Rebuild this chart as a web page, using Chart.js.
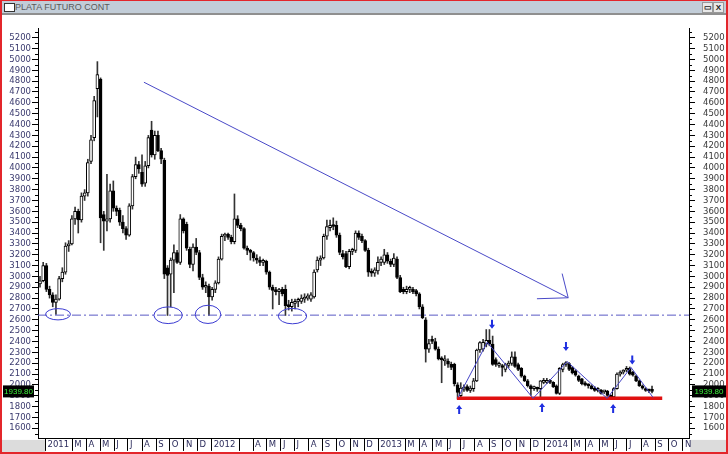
<!DOCTYPE html>
<html lang="es">
<head>
<meta charset="UTF-8">
<title>PLATA FUTURO CONT</title>
<script src="https://cdn.jsdelivr.net/npm/chart.js@4"></script>
<style>
  body { margin: 0; background: #fff; }
  .frame { position: relative; width: 728px; height: 454px; background: #e3262b; overflow: hidden; }
  .title { position: absolute; left: 2px; top: 1px; width: 724px; height: 12px; background: #c2cdd8; border-bottom: 2px solid #8f8f8f; }
  .title .icon { position: absolute; left: 2px; top: 2px; width: 9px; height: 7px; border: 1px solid #333; background: #fff; }
  .title span { position: absolute; left: 13px; top: 0; font: 9px "Liberation Sans", Arial, sans-serif; line-height: 12px; color: #5a5a5a; }
  .btn { position: absolute; top: 1px; width: 9px; height: 9px; background: #e8e8e8; border: 1px solid #999; font: bold 8px/9px "Liberation Sans", sans-serif; text-align: center; color: #222; }
  canvas { position: absolute; left: 2px; top: 15px; }
</style>
</head>
<body>
<div class="frame">
  <div class="title">
    <div class="icon"></div><span>PLATA FUTURO CONT</span>
    <div class="btn" style="left:700px">&#9645;</div>
    <div class="btn" style="left:711px">X</div>
  </div>
  <canvas id="chart" width="724" height="437"></canvas>
</div>
<script>
// weekly candles, first one is the week of 2010-12-20
const firstWeek = '2010-12-20';

const opens = [2930,2960,3100,2880,2830,2760,2790,2980,3040,3280,
  3300,3530,3600,3520,3740,3770,4060,4280,4730,4820,
  3570,3510,3530,3790,3630,3610,3500,3440,3380,3650,
  3920,4030,3960,3860,4020,4350,4120,4300,4160,4070,
  3080,3020,3150,3220,3130,3530,3480,3250,3110,3270,
  3220,2990,2900,2910,2810,2880,2940,3160,3370,3390,
  3360,3320,3530,3470,3440,3260,3240,3220,3170,3150,
  3130,3140,3040,2900,2870,2860,2880,2880,2740,2720,
  2750,2770,2770,2790,2800,2790,2810,3060,3150,3170,
  3370,3450,3470,3470,3380,3210,3210,3090,3230,3240,
  3400,3370,3330,3240,3040,3030,3050,3130,3130,3200,
  3140,3110,3160,2990,2880,2860,2880,2880,2870,2840,
  2720,2600,2330,2420,2400,2330,2240,2220,2220,2190,
  2190,2000,1900,1960,1985,1950,1966,2037,2322,2330,
  2375,2410,2375,2233,2180,2170,2143,2180,2197,2259,
  2188,2153,2081,2037,1992,1966,1970,1966,2023,2023,
  2037,2023,1992,1921,2143,2188,2197,2160,2130,2080,
  2055,2010,1995,1992,1970,1950,1950,1935,1943,1903,
  1890,1966,2099,2117,2135,2153,2117,2081,2037,1992,
  1966,1950,1945];

const highs = [3000,3130,3120,2910,2850,2830,3000,3080,3310,3330,
  3560,3640,3620,3770,3800,4080,4300,4660,4980,4830,
  3600,3940,3850,3880,3650,3630,3560,3460,3670,3940,
  4100,4060,4120,4060,4300,4430,4340,4340,4180,4090,
  3100,3170,3290,3240,3570,3540,3500,3270,3300,3350,
  3240,3020,2950,2930,2900,2960,3180,3390,3400,3400,
  3380,3760,3560,3490,3450,3280,3250,3230,3200,3180,
  3160,3150,3050,2920,2900,2890,2900,2920,2780,2790,
  2790,2800,2830,2840,2840,2850,3060,3180,3190,3390,
  3520,3520,3540,3510,3400,3240,3230,3250,3260,3420,
  3420,3390,3340,3260,3070,3080,3180,3180,3250,3220,
  3160,3210,3180,3010,2900,2910,2910,2900,2880,2850,
  2740,2620,2420,2450,2430,2350,2260,2270,2240,2210,
  2200,2020,2020,2000,2000,1990,2060,2330,2400,2420,
  2510,2510,2450,2250,2210,2190,2200,2220,2304,2304,
  2200,2160,2090,2050,2000,1990,1980,2040,2060,2060,
  2050,2030,2000,2160,2200,2215,2205,2170,2140,2090,
  2060,2030,2010,2000,1985,1975,1960,1950,1950,1910,
  1975,2110,2130,2140,2170,2165,2125,2090,2045,2000,
  1975,1960,1990];

const lows = [2900,2950,2860,2800,2720,2650,2780,2950,3020,3230,
  3290,3480,3400,3500,3700,3740,4040,4250,4470,3310,
  3240,3420,3500,3600,3560,3470,3400,3340,3370,3620,
  3900,3950,3830,3830,4000,4100,4080,4150,4040,2980,
  2640,2720,2850,3120,3110,3400,3240,3080,3050,3200,
  2970,2880,2850,2640,2780,2850,2930,3150,3330,3340,
  3300,3300,3450,3420,3250,3200,3150,3140,3120,3100,
  3100,3020,2880,2700,2830,2740,2820,2640,2690,2680,
  2700,2720,2750,2760,2780,2770,2800,3040,3100,3160,
  3340,3420,3430,3360,3200,3160,3080,3070,3200,3220,
  3340,3310,3230,3000,3000,3000,3020,3100,3110,3120,
  3090,3090,2980,2850,2840,2840,2850,2840,2820,2700,
  2610,2210,2300,2380,2320,2230,2020,2180,2160,2140,
  1990,1870,1880,1940,1940,1930,1940,2030,2300,2310,
  2350,2360,2180,2170,2160,2081,2120,2160,2180,2160,
  2130,2070,2030,1980,1903,1950,1940,1890,2010,2010,
  2010,1975,1915,1910,2120,2170,2130,2100,2080,2030,
  2000,1990,1970,1960,1940,1935,1915,1920,1895,1875,
  1880,1960,2080,2100,2120,2090,2080,2030,1985,1960,
  1940,1930,1925];

const closes = [2960,3100,2880,2830,2760,2790,2980,3040,3280,3300,
  3530,3600,3520,3740,3770,4050,4260,4620,4860,3540,
  3510,3530,3790,3630,3600,3500,3440,3380,3650,3920,
  4030,3990,3850,4020,4280,4120,4300,4160,4080,3020,
  3010,3150,3220,3130,3530,3420,3260,3110,3270,3220,
  2990,2900,2910,2810,2880,2940,3160,3370,3390,3360,
  3320,3530,3470,3440,3260,3240,3220,3170,3150,3130,
  3140,3040,2900,2870,2860,2870,2840,2730,2720,2760,
  2770,2780,2800,2810,2820,2830,3040,3150,3170,3370,
  3460,3470,3460,3380,3220,3180,3090,3230,3240,3400,
  3360,3330,3240,3040,3030,3060,3130,3160,3200,3140,
  3110,3170,2990,2860,2860,2880,2890,2860,2840,2720,
  2620,2330,2380,2400,2330,2240,2230,2240,2190,2160,
  2010,1930,1970,1980,1950,1970,2037,2320,2390,2393,
  2410,2375,2188,2188,2190,2160,2188,2200,2259,2170,
  2143,2081,2037,1992,1966,1975,1960,2037,2037,2037,
  2023,1983,1921,2153,2188,2197,2143,2110,2090,2040,
  2010,2000,1992,1966,1950,1966,1921,1943,1903,1885,
  1966,2099,2117,2135,2153,2099,2090,2037,1992,1970,
  1948,1945,1939.8];

const yTicks = [1600,1700,1800,1900,2000,2100,2200,2300,2400,2500,2600,2700,2800,2900,
  3000,3100,3200,3300,3400,3500,3600,3700,3800,3900,4000,4100,4200,4300,4400,4500,
  4600,4700,4800,4900,5000,5100,5200];

const monthStarts = ['2011-01-01','2011-03-01','2011-04-01','2011-05-01','2011-06-01','2011-07-01',
  '2011-08-01','2011-09-01','2011-10-01','2011-11-01','2011-12-01',
  '2012-01-01','2012-03-01','2012-04-01','2012-05-01','2012-06-01','2012-07-01',
  '2012-08-01','2012-09-01','2012-10-01','2012-11-01','2012-12-01',
  '2013-01-01','2013-03-01','2013-04-01','2013-05-01','2013-06-01','2013-07-01',
  '2013-08-01','2013-09-01','2013-10-01','2013-11-01','2013-12-01',
  '2014-01-01','2014-03-01','2014-04-01','2014-05-01','2014-06-01','2014-07-01',
  '2014-08-01','2014-09-01','2014-10-01','2014-11-01'];
const monthLabels = ['2011','M','A','M','J','J','A','S','O','N','D',
  '2012','','A','M','J','J','A','S','O','N','D',
  '2013','M','A','M','J','J','A','S','O','N','D',
  '2014','M','A','M','J','J','A','S','O','N'];

// drawn studies (x in weeks from firstWeek, y in price)
const trendLine = [{x: 32.6, y: 4790}, {x: 165.7, y: 2803}];
const trendArrow = [{x: 163.8, y: 3026}, {x: 165.7, y: 2803}, {x: 155.9, y: 2794}];
const supportLevel = 2643;
const floorLevel = 1876;
const floorSpan = [130.8, 195.2];
const zigzag = [{x: 131.2, y: 1885}, {x: 140.3, y: 2393}, {x: 154.7, y: 1876}, {x: 165.4, y: 2215},
  {x: 177.9, y: 1876}, {x: 185.4, y: 2161}, {x: 192.3, y: 1885}];
const circles = [{x: 5.65, y: 2651, rx: 3.9, ry: 52}, {x: 40.2, y: 2642, rx: 4.45, ry: 77},
  {x: 52.7, y: 2650, rx: 4.0, ry: 84}, {x: 79.2, y: 2634, rx: 4.45, ry: 71}];
const arrowsUp = [{x: 131.5, y: 1814}, {x: 157.5, y: 1832}, {x: 179.8, y: 1823}];
const arrowsDown = [{x: 141.8, y: 2518}, {x: 165.0, y: 2313}, {x: 185.8, y: 2188}];

const xMin = -0.63, xMax = 203.6;
const yMin = 1502, yMax = 5289;
const lastValue = closes[closes.length - 1];

const weekOf = d => (Date.parse(d) - Date.parse(firstWeek)) / (7 * 86400000);
const monthTicks = monthStarts.map(weekOf);

const wickData = closes.map((c, i) => ({x: i, y: [lows[i], highs[i]]}));
const bodyData = closes.map((c, i) => ({x: i, y: [Math.min(opens[i], c), Math.max(opens[i], c)]}));
const bodyFill = closes.map((c, i) => c >= opens[i] ? '#ffffff' : '#000000');

const axisFont = {family: 'DejaVu Sans', size: 8.5};

// background, bottom strip, minor ticks, last price tags
const framePlugin = {
  id: 'frame',
  beforeDraw(chart) {
    const {ctx, chartArea, scales} = chart;
    ctx.save();
    ctx.fillStyle = '#ffffff';
    ctx.fillRect(0, 0, chart.width, chart.height);
    ctx.fillStyle = '#dcdcdc';
    const x0 = scales.x.getPixelForValue(monthTicks[0]);
    ctx.fillRect(0, chartArea.bottom + 1, x0, chart.height - chartArea.bottom);
    ctx.fillRect(chartArea.right + 1, chartArea.bottom + 1, chart.width - chartArea.right, chart.height - chartArea.bottom);
    ctx.restore();
  },
  afterDraw(chart) {
    const {ctx, chartArea, scales} = chart;
    ctx.save();
    ctx.strokeStyle = '#000';
    ctx.lineWidth = 1;
    ctx.beginPath();
    for (let v = 1550; v < yMax; v += 100) {
      const y = Math.round(scales.y.getPixelForValue(v)) + 0.5;
      ctx.moveTo(chartArea.left - 3, y); ctx.lineTo(chartArea.left, y);
      ctx.moveTo(chartArea.right, y); ctx.lineTo(chartArea.right + 3, y);
    }
    ctx.stroke();
    const y = scales.y.getPixelForValue(lastValue);
    ctx.fillStyle = '#000';
    ctx.fillRect(1, y - 6, 31, 12);
    ctx.fillRect(chartArea.right + 3, y - 6, 34, 12);
    ctx.fillStyle = '#3cf03c';
    ctx.font = '8px "Liberation Sans"';
    ctx.textAlign = 'center';
    ctx.textBaseline = 'middle';
    ctx.fillText(lastValue.toFixed(2), 16.5, y + 0.5);
    ctx.fillText(lastValue.toFixed(2), chartArea.right + 20, y + 0.5);
    ctx.restore();
  }
};

// circles and arrows drawn on the price scale
const marksPlugin = {
  id: 'marks',
  afterDatasetsDraw(chart) {
    const {ctx, scales: {x, y}} = chart;
    ctx.save();
    ctx.strokeStyle = '#3c3cd2';
    ctx.lineWidth = 1;
    circles.forEach(c => {
      const cx = x.getPixelForValue(c.x), cy = y.getPixelForValue(c.y);
      const rx = x.getPixelForValue(c.x + c.rx) - cx;
      const ry = cy - y.getPixelForValue(c.y + c.ry);
      ctx.beginPath();
      ctx.ellipse(cx, cy, rx, ry, 0, 0, Math.PI * 2);
      ctx.stroke();
    });
    ctx.fillStyle = '#1f2fe0';
    const arrow = (p, dir) => {
      const px = x.getPixelForValue(p.x), py = y.getPixelForValue(p.y);
      ctx.beginPath();
      ctx.moveTo(px, py);
      ctx.lineTo(px + 3, py + dir * 4);
      ctx.lineTo(px + 1, py + dir * 4);
      ctx.lineTo(px + 1, py + dir * 9);
      ctx.lineTo(px - 1, py + dir * 9);
      ctx.lineTo(px - 1, py + dir * 4);
      ctx.lineTo(px - 3, py + dir * 4);
      ctx.closePath();
      ctx.fill();
    };
    arrowsUp.forEach(p => arrow(p, 1));
    arrowsDown.forEach(p => arrow(p, -1));
    ctx.restore();
  }
};

const lineSet = (data, color, width, dash) => ({
  type: 'line', data, borderColor: color, borderWidth: width, borderDash: dash || [],
  pointRadius: 0, tension: 0, fill: false
});

const yAxis = (position, color, width) => ({
  position, min: yMin, max: yMax,
  afterBuildTicks: s => { s.ticks = yTicks.map(v => ({value: v})); },
  afterFit: s => { s.width = width; },
  ticks: {font: axisFont, color, autoSkip: false, padding: position === 'left' ? 1 : 8, callback: v => String(v)},
  grid: {drawOnChartArea: false, tickLength: 6, color: '#000'},
  border: {color: '#000'}
});

new Chart(document.getElementById('chart'), {
  type: 'bar',
  data: {
    datasets: [
      lineSet(zigzag, '#4646c8', 1),
      lineSet([{x: floorSpan[0], y: floorLevel}, {x: floorSpan[1], y: floorLevel}], '#e01010', 3.5),
      lineSet(trendLine, '#4a4ac8', 1),
      lineSet(trendArrow, '#4a4ac8', 1),
      lineSet([{x: xMin, y: supportLevel}, {x: xMax, y: supportLevel}], '#5a5ac4', 1, [9, 3, 2, 3]),
      {
        data: bodyData, grouped: false, barThickness: 3, minBarLength: 2,
        backgroundColor: bodyFill, borderColor: '#000', borderWidth: 1, borderSkipped: false
      },
      {
        data: wickData, grouped: false, barThickness: 1,
        backgroundColor: '#333', borderWidth: 0
      }
    ]
  },
  options: {
    responsive: false,
    animation: false,
    events: [],
    layout: {padding: 0},
    plugins: {legend: {display: false}, tooltip: {enabled: false}},
    scales: {
      x: {
        type: 'linear', min: xMin, max: xMax, offset: false,
        afterBuildTicks: s => { s.ticks = monthTicks.map(v => ({value: v})); },
        afterFit: s => { s.height = 12; },
        ticks: {
          font: axisFont, color: '#2c2c5c', align: 'start', labelOffset: 2,
          padding: -11, autoSkip: false, maxRotation: 0,
          callback: (v, i) => monthLabels[i]
        },
        grid: {drawOnChartArea: false, tickLength: 12, color: '#000', offset: false},
        border: {color: '#000'}
      },
      y: yAxis('left', '#3a3a6e', 36),
      y2: yAxis('right', '#3a3a3a', 37)
    }
  },
  plugins: [framePlugin, marksPlugin]
});
</script>
</body>
</html>
